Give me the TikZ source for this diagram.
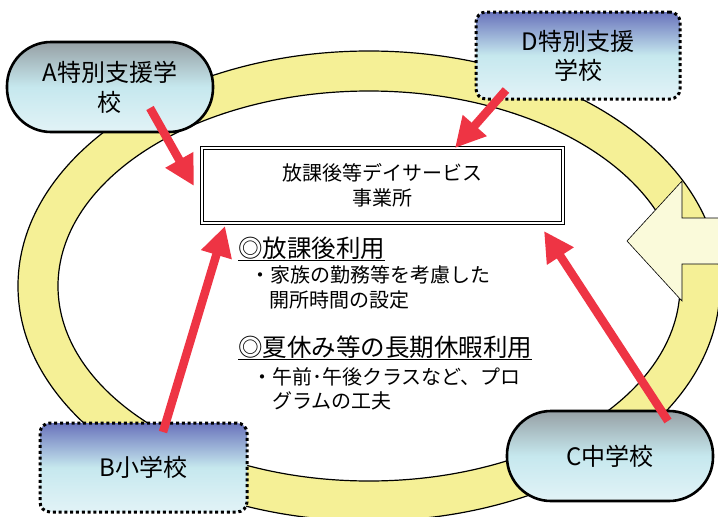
\documentclass[tikz,border=0pt]{standalone}
\usepackage{fontspec}
\setmainfont{Noto Sans CJK JP}
\usetikzlibrary{arrows.meta}
\definecolor{ringyel}{RGB}{245,240,150}
\definecolor{arrowyel}{RGB}{250,250,218}
\definecolor{redarr}{RGB}{238,52,68}
\definecolor{grtop}{RGB}{150,160,165}
\definecolor{cymid}{RGB}{198,232,238}
\definecolor{cybot}{RGB}{226,243,247}
\definecolor{bltop}{RGB}{105,115,188}
\begin{document}
\begin{tikzpicture}[x=1pt,y=-1pt,
  stadium/.style={draw=black, line width=2.6pt, rounded corners=44pt,
    top color=grtop, bottom color=cybot, middle color=cymid,
    inner sep=0pt, align=center, font=\fontsize{24}{30}\selectfont},
  dotbox/.style={draw=black, line width=3pt, dash pattern=on 3pt off 2.8pt,
    rounded corners=10pt, top color=bltop, bottom color=cybot, middle color=cymid,
    inner sep=0pt, align=center, font=\fontsize{24}{29}\selectfont},
  centerbox/.style={draw=black, line width=0.9pt, double=white, double distance=1.6pt,
    fill=white, inner sep=0pt, align=center, font=\fontsize{20}{25}\selectfont},
  headtxt/.style={anchor=base west, inner sep=0pt, font=\fontsize{24.5}{28}\selectfont},
  bodytxt/.style={anchor=base west, inner sep=0pt, font=\fontsize{20}{24}\selectfont},
  redline/.style={draw=redarr, line width=8.5pt, -{Triangle[length=30pt,width=30pt]}}
]
\useasboundingbox (0,0) rectangle (718,517);
% ring
\draw[fill=ringyel, line width=1.2pt, even odd rule]
  (369,286) ellipse [x radius=351pt, y radius=235pt]
  (369,286) ellipse [x radius=311pt, y radius=195pt];
% block arrow on the right
\draw[fill=arrowyel, line width=0.6pt]
  (627,241) -- (682,181) -- (682,218) -- (740,218) -- (740,264) -- (682,264) -- (682,301) -- cycle;
% boxes
\node[stadium, minimum width=206pt, minimum height=90pt] (A) at (110,87) {A特別支援学\\校};
\node[dotbox, minimum width=204pt, minimum height=87pt] (D) at (578,55.5) {D特別支援\\学校};
\node[dotbox, minimum width=207pt, minimum height=89pt] (B) at (143.5,467.5) {B小学校};
\node[stadium, minimum width=206pt, minimum height=90pt] (C) at (610,456) {C中学校};
\node[centerbox, minimum width=361pt, minimum height=75pt] (S) at (382.5,185.5) {放課後等デイサービス\\事業所};
% texts
\node[headtxt] (h1) at (238,257) {\underline{◎放課後利用}};
\node[bodytxt] (t1) at (250,282) {・家族の勤務等を考慮した};
\node[bodytxt] (t2) at (269,307) {開所時間の設定};
\node[headtxt] (h2) at (238,356) {\underline{◎夏休み等の長期休暇利用}};
\node[bodytxt] (t3) at (252,384) {・午前･午後クラスなど、プロ};
\node[bodytxt] (t4) at (272,408) {グラムの工夫};
% arrow anchors
\coordinate (a0) at (150,108);
\coordinate (a1) at (194,186);
\coordinate (d0) at (506,90);
\coordinate (d1) at (455,148);
\coordinate (b0) at (163,432);
\coordinate (b1) at (225,226);
\coordinate (c0) at (668,421);
\coordinate (c1) at (544,231);
\draw[redline] (a0) -- (a1);
\draw[redline] (d0) -- (d1);
\draw[redline] (b0) -- (b1);
\draw[redline] (c0) -- (c1);
\end{tikzpicture}
\end{document}
